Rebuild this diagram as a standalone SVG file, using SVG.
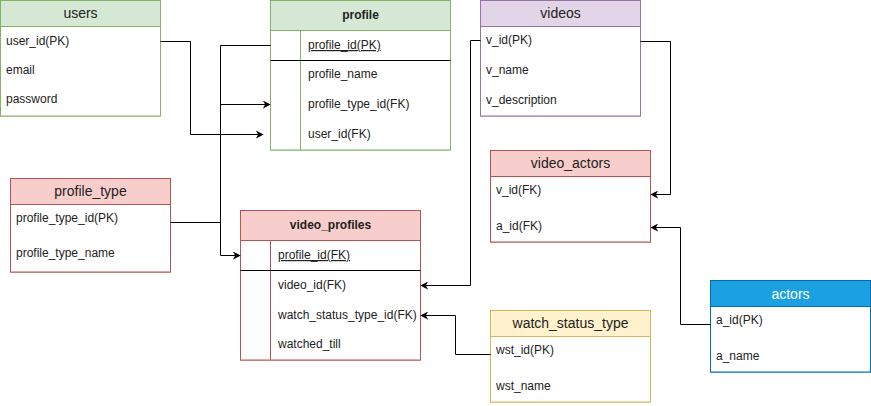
<svg xmlns="http://www.w3.org/2000/svg" width="871" height="406" viewBox="0 0 871 406">
<style>
text{font-family:"Liberation Sans",Arial,sans-serif;fill:#222}
.r{font-size:12px}
.h{font-size:14px;text-anchor:middle}
.hb{font-size:12px;font-weight:bold;text-anchor:middle}
.u{text-decoration:underline}
.green{fill:#d5e8d4;stroke:#82b366}
.red{fill:#f8cecc;stroke:#b85450}
.purple{fill:#e1d5e7;stroke:#9673a6}
.yellow{fill:#fff2cc;stroke:#d6b656}
.blue{fill:#1ba1e2;stroke:#006eaf}
.body{fill:#fff}
.ln{stroke:#000;fill:none}
.c{stroke:#000;stroke-width:1;fill:none}
</style>
<defs>
<marker id="arr" viewBox="0 0 10 10" refX="9" refY="5" markerWidth="8" markerHeight="8" markerUnits="userSpaceOnUse" orient="auto">
<path d="M0,0 L10,5 L0,10 L3,5 Z" fill="#000"/>
</marker>
</defs>
<g id="users">
<rect x="0.5" y="0.5" width="160" height="115.5" class="green"/>
<rect x="0.5" y="26.5" width="160" height="89.5" class="body" stroke="#82b366"/>
<text x="80.5" y="18" class="h">users</text>
<text x="6" y="45" class="r">user_id(PK)</text>
<text x="6" y="74" class="r">email</text>
<text x="6" y="103" class="r">password</text>
</g>
<g id="profile">
<rect x="270.5" y="0.5" width="180" height="149.5" class="green"/>
<rect x="270.5" y="30.5" width="180" height="119.5" class="body" stroke="#82b366"/>
<line x1="300.5" y1="30.5" x2="300.5" y2="150" stroke="#82b366"/>
<line x1="270.5" y1="60.5" x2="450.5" y2="60.5" class="ln"/>
<text x="360.5" y="19" class="hb">profile</text>
<text x="308" y="49" class="r u">profile_id(PK)</text>
<text x="308" y="78" class="r">profile_name</text>
<text x="308" y="108" class="r">profile_type_id(FK)</text>
<text x="308" y="138" class="r">user_id(FK)</text>
</g>
<g id="videos">
<rect x="480.5" y="0.5" width="160" height="115.5" class="purple"/>
<rect x="480.5" y="26.5" width="160" height="89.5" class="body" stroke="#9673a6"/>
<text x="560.5" y="18" class="h">videos</text>
<text x="486" y="44" class="r">v_id(PK)</text>
<text x="486" y="74" class="r">v_name</text>
<text x="486" y="104" class="r">v_description</text>
</g>
<g id="video_actors">
<rect x="490.5" y="150.5" width="160" height="91.5" class="red"/>
<rect x="490.5" y="176.5" width="160" height="65.5" class="body" stroke="#b85450"/>
<text x="570.5" y="168" class="h">video_actors</text>
<text x="496" y="194" class="r">v_id(FK)</text>
<text x="496" y="230" class="r">a_id(FK)</text>
</g>
<g id="profile_type">
<rect x="10.5" y="178.5" width="160" height="93.5" class="red"/>
<rect x="10.5" y="204.5" width="160" height="67.5" class="body" stroke="#b85450"/>
<text x="90.5" y="196" class="h">profile_type</text>
<text x="16" y="222" class="r">profile_type_id(PK)</text>
<text x="16" y="257" class="r">profile_type_name</text>
</g>
<g id="video_profiles">
<rect x="240.5" y="210.5" width="180" height="149.5" class="red"/>
<rect x="240.5" y="240.5" width="180" height="119.5" class="body" stroke="#b85450"/>
<line x1="270.5" y1="240.5" x2="270.5" y2="360" stroke="#b85450"/>
<line x1="240.5" y1="270.5" x2="420.5" y2="270.5" class="ln"/>
<text x="330.5" y="229" class="hb">video_profiles</text>
<text x="278" y="259" class="r u">profile_id(FK)</text>
<text x="278" y="289" class="r">video_id(FK)</text>
<text x="278" y="319" class="r">watch_status_type_id(FK)</text>
<text x="278" y="348" class="r">watched_till</text>
</g>
<g id="watch_status_type">
<rect x="490.5" y="310.5" width="160" height="91.5" class="yellow"/>
<rect x="490.5" y="336.5" width="160" height="65.5" class="body" stroke="#d6b656"/>
<text x="570.5" y="328" class="h">watch_status_type</text>
<text x="496" y="354" class="r">wst_id(PK)</text>
<text x="496" y="390" class="r">wst_name</text>
</g>
<g id="actors">
<rect x="710.5" y="280.5" width="160" height="91.5" class="blue"/>
<rect x="710.5" y="306.5" width="160" height="65.5" class="body" stroke="#006eaf"/>
<text x="790.5" y="299" class="h" style="fill:#fff">actors</text>
<text x="716" y="324" class="r">a_id(PK)</text>
<text x="716" y="360" class="r">a_name</text>
</g>
<g id="connectors">
<path d="M160.5,41.5 H190.5 V134.5 H263" class="c" marker-end="url(#arr)"/>
<path d="M170.5,222.5 H220.5 V104.5 H270" class="c" marker-end="url(#arr)"/>
<path d="M270.5,45.5 H220.5 V255.5 H240" class="c" marker-end="url(#arr)"/>
<path d="M480.5,40.5 H470.5 V285.5 H421" class="c" marker-end="url(#arr)"/>
<path d="M640.5,41.5 H670.5 V194.5 H651" class="c" marker-end="url(#arr)"/>
<path d="M710.5,324.5 H680.5 V227.5 H651" class="c" marker-end="url(#arr)"/>
<path d="M490.5,354.5 H455.5 V315.5 H421" class="c" marker-end="url(#arr)"/>
</g>
</svg>
